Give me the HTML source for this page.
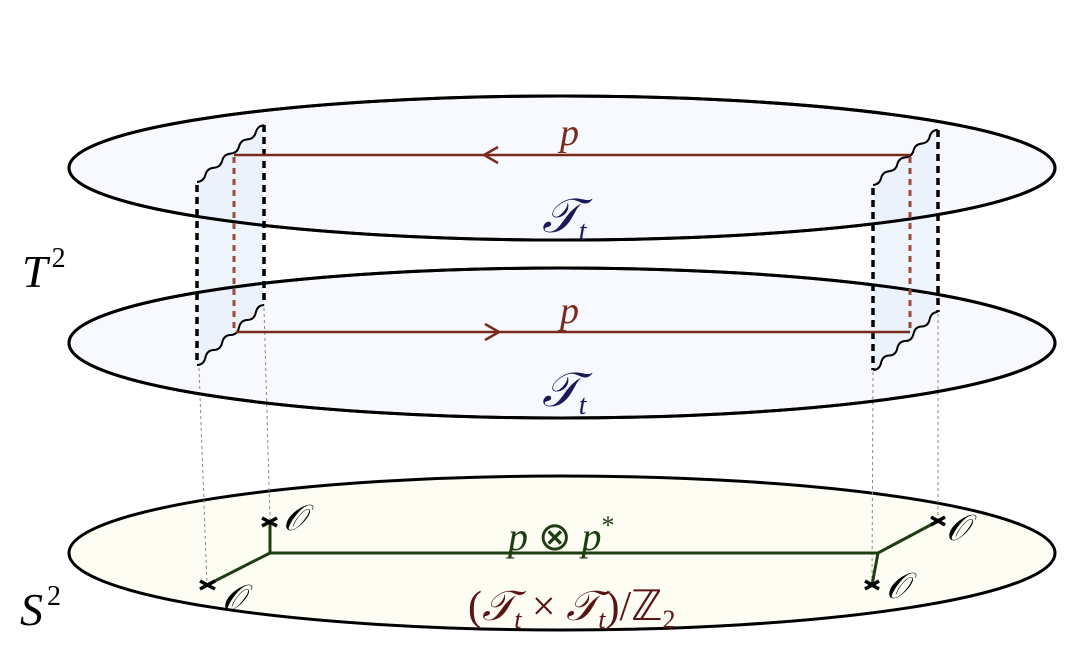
<!DOCTYPE html>
<html><head><style>body{margin:0;background:#fff}svg{display:block}</style></head><body>
<svg width="1072" height="670" viewBox="0 0 1072 670" xmlns="http://www.w3.org/2000/svg">
<g font-family="Liberation Serif, serif" font-style="italic">
<!-- ellipses -->
<ellipse cx="562" cy="168" rx="493" ry="72" fill="#f8f8ff" stroke="#000" stroke-width="3"/>
<ellipse cx="562" cy="343" rx="493" ry="75" fill="#f8f8ff" stroke="#000" stroke-width="3"/>
<ellipse cx="562" cy="553" rx="493" ry="77" fill="#fdfdf3" stroke="#000" stroke-width="3"/>
<!-- gray dotted projections -->
<g stroke="#888" stroke-width="1" stroke-dasharray="3,3">
<line x1="199" y1="368" x2="207" y2="585"/><line x1="264" y1="308" x2="270" y2="520"/>
<line x1="873" y1="372" x2="872" y2="585"/><line x1="938" y1="314" x2="938" y2="520"/>
</g>
<!-- sheets -->
<path d="M197,182 L264,125 L264,305 L197,365 Z" fill="#e4eefa" opacity="0.6"/>
<path d="M873,185 L938,130 L938,312 L873,370 Z" fill="#e4eefa" opacity="0.6"/>
<ellipse cx="562" cy="168" rx="493" ry="72" fill="none" stroke="#000" stroke-width="3"/>
<ellipse cx="562" cy="343" rx="493" ry="75" fill="none" stroke="#000" stroke-width="3"/>
<g fill="none" stroke="#000" stroke-width="2">
<path d="M197,182 q6.8,-0.55 8.4,-7.1 t8.4,-7.1 t8.4,-7.1 t8.4,-7.1 t8.4,-7.1 t8.4,-7.1 t8.4,-7.1 t8.4,-7.1"/>
<path d="M197,365 q6.8,-0.2 8.4,-7.5 t8.4,-7.5 t8.4,-7.5 t8.4,-7.5 t8.4,-7.5 t8.4,-7.5 t8.4,-7.5 t8.4,-7.5"/>
<path d="M873,185 q6.6,-0.6 8.1,-6.9 t8.1,-6.9 t8.1,-6.9 t8.1,-6.9 t8.1,-6.9 t8.1,-6.9 t8.1,-6.9 t8.1,-6.9"/>
<path d="M873,370 q6.6,-0.2 8.1,-7.25 t8.1,-7.25 t8.1,-7.25 t8.1,-7.25 t8.1,-7.25 t8.1,-7.25 t8.1,-7.25 t8.1,-7.25"/>
</g>
<g stroke="#000" stroke-width="3.5" stroke-dasharray="7,5">
<line x1="197" y1="185" x2="197" y2="365"/><line x1="264" y1="125" x2="264" y2="305"/>
<line x1="873" y1="188" x2="873" y2="370"/><line x1="938" y1="130" x2="938" y2="312"/>
</g>
<g stroke="#9a4a36" stroke-width="3" stroke-dasharray="6,5">
<line x1="234" y1="157" x2="234" y2="330"/><line x1="910" y1="157" x2="910" y2="330"/>
</g>
<!-- red paths -->
<g stroke="#7a2a1a" stroke-width="2.5" fill="none">
<line x1="234" y1="155" x2="910" y2="155"/>
<line x1="236" y1="332" x2="910" y2="332"/>
<path d="M498,147 L484,155 L498,163"/>
<path d="M485,324 L499,332 L485,340"/>
</g>
<!-- green paths -->
<g stroke="#1e3d12" stroke-width="3" fill="none">
<path d="M270,522 L270,553 L878,553 L938,521"/>
<path d="M270,553 L207,585"/>
<path d="M878,553 L872,585"/>
</g>
<g stroke="#000" stroke-width="3.5">
<path d="M262,518 L277,526 M262,526 L277,518"/>
<path d="M200,581 L215,589 M200,589 L215,581"/>
<path d="M931,517 L945,525 M931,525 L945,517"/>
<path d="M865,581 L879,589 M865,589 L879,581"/>
</g>
<!-- labels -->
<g font-size="36" fill="#000">
<text x="283" y="530">𝒪</text><text x="222" y="610">𝒪</text>
<text x="946" y="540">𝒪</text><text x="886" y="598">𝒪</text>
</g>
<text x="560" y="145" font-size="38" fill="#7a2a1a">p</text>
<text x="560" y="323" font-size="38" fill="#7a2a1a">p</text>
<text x="542" y="232" font-size="48" fill="#1a1a5a">𝒯<tspan font-size="28" dy="8">t</tspan></text>
<text x="542" y="406" font-size="48" fill="#1a1a5a">𝒯<tspan font-size="28" dy="8">t</tspan></text>
<text x="22" y="287" font-size="46" fill="#000">T<tspan font-size="28" dx="4" dy="-20" font-style="normal">2</tspan></text>
<text x="20" y="625" font-size="46" fill="#000">S<tspan font-size="28" dx="4" dy="-20" font-style="normal">2</tspan></text>
<text x="508" y="550" font-size="40" fill="#1e3d12">p <tspan font-style="normal">⊗</tspan> p<tspan font-size="26" dy="-16" font-style="normal">*</tspan></text>
<text x="468" y="620" font-size="42" fill="#5a1414"><tspan font-style="normal">(</tspan>𝒯<tspan font-size="26" dy="8">t</tspan><tspan dy="-8" font-style="normal"> × </tspan>𝒯<tspan font-size="26" dy="8">t</tspan><tspan dy="-8" font-style="normal">)/ℤ</tspan><tspan font-size="26" dy="8" font-style="normal">2</tspan></text>
</g>
</svg>
</body></html>
